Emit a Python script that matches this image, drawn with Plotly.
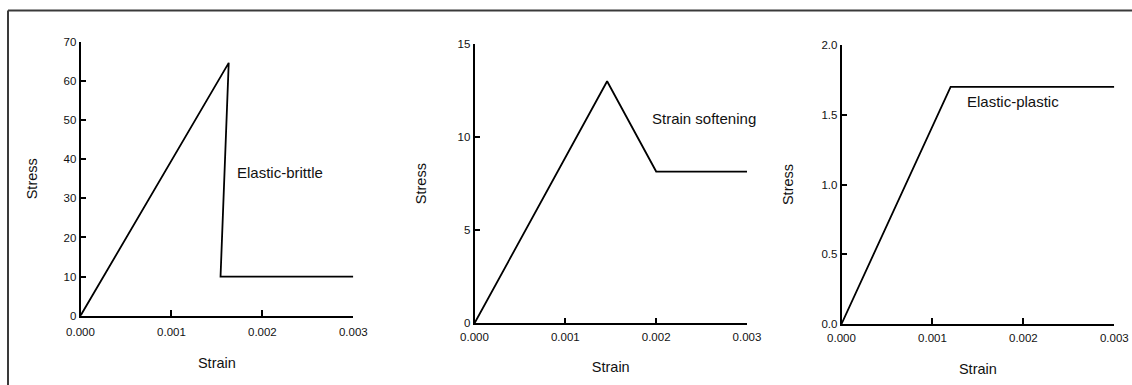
import plotly.graph_objects as go

# ---- data ----
brittle_strain = [0.0, 0.00163, 0.00154, 0.003]
brittle_stress = [0.0, 64.6, 10.0, 10.0]
softening_strain = [0.0, 0.00146, 0.002, 0.003]
softening_stress = [0.0, 13.0, 8.15, 8.15]
plastic_strain = [0.0, 0.0012, 0.003]
plastic_stress = [0.0, 1.70, 1.70]

x_ticks = [0.0, 0.001, 0.002, 0.003]
y1_ticks = [0, 10, 20, 30, 40, 50, 60, 70]
y2_ticks = [0, 5, 10, 15]
y3_ticks = [0.0, 0.5, 1.0, 1.5, 2.0]

labels = ["Elastic-brittle", "Strain softening", "Elastic-plastic"]

W, H = 1132, 385
FONT = "Liberation Sans, Arial, sans-serif"
INK = "#111111"

def xd(a, b):
    return [a / W, b / W]

def yd(bottom_px, top_px):
    return [1 - bottom_px / H, 1 - top_px / H]

fig = go.Figure()
line = dict(color="black", width=1.8)
fig.add_trace(go.Scatter(x=brittle_strain, y=brittle_stress, mode="lines", line=line, xaxis="x", yaxis="y", showlegend=False))
fig.add_trace(go.Scatter(x=softening_strain, y=softening_stress, mode="lines", line=line, xaxis="x2", yaxis="y2", showlegend=False))
fig.add_trace(go.Scatter(x=plastic_strain, y=plastic_stress, mode="lines", line=line, xaxis="x3", yaxis="y3", showlegend=False))

def xaxis(dom, anchor, lab_off, standoff):
    return dict(domain=dom, anchor=anchor, range=[0, 0.003], tickvals=x_ticks, tickformat=".3f",
                showline=True, linecolor="black", linewidth=1.6, ticks="inside", ticklen=6,
                tickcolor="black", tickwidth=1.5, showgrid=False, zeroline=False, automargin=False,
                tickfont=dict(size=11.5, color=INK, family=FONT), ticklabelstandoff=lab_off,
                title=dict(text="Strain", font=dict(size=14.5, color=INK, family=FONT), standoff=standoff))

def yaxis(dom, anchor, rng, ticks, fmt, standoff):
    return dict(domain=dom, anchor=anchor, range=rng, tickvals=ticks, tickformat=fmt,
                showline=True, linecolor="black", linewidth=1.6, ticks="inside", ticklen=6,
                tickcolor="black", tickwidth=1.5, showgrid=False, zeroline=False, automargin=False,
                tickfont=dict(size=11.5, color=INK, family=FONT), ticklabelstandoff=0,
                title=dict(text="Stress", font=dict(size=14.5, color=INK, family=FONT), standoff=standoff))

fig.update_layout(
    width=W, height=H, margin=dict(l=0, r=0, t=0, b=0, pad=0, autoexpand=False),
    autosize=False,
    paper_bgcolor="white", plot_bgcolor="white",
    font=dict(family=FONT, color=INK),
    xaxis=xaxis(xd(80.5, 353.3), "y", 5, 20),
    yaxis=yaxis(yd(315.8, 41.7), "x", [0, 70], y1_ticks, "d", 23),
    xaxis2=xaxis(xd(474.5, 747), "y2", 2, 20),
    yaxis2=yaxis(yd(323.3, 44), "x2", [0, 15], y2_ticks, "d", 28),
    xaxis3=xaxis(xd(841.5, 1114.3), "y3", 2, 21),
    yaxis3=yaxis(yd(324, 45), "x3", [0, 2.0], y3_ticks, ".1f", 24),
)

ann_font = dict(size=15, color=INK, family=FONT)
fig.add_annotation(x=0.00219, y=36.5, xref="x", yref="y", text=labels[0], showarrow=False, font=ann_font)
fig.add_annotation(x=0.002527, y=11.0, xref="x2", yref="y2", text=labels[1], showarrow=False, font=ann_font)
fig.add_annotation(x=0.001884, y=1.592, xref="x3", yref="y3", text=labels[2], showarrow=False, font=ann_font)

# outer frame (top and left edges visible)
fig.add_shape(type="line", xref="paper", yref="paper", x0=8 / W, y0=0, x1=8 / W, y1=1 - 10.5 / H,
              line=dict(color="#3a3a3a", width=2))
fig.add_shape(type="line", xref="paper", yref="paper", x0=8 / W, y0=1 - 10.5 / H, x1=1, y1=1 - 10.5 / H,
              line=dict(color="#3a3a3a", width=2))

fig.write_html(
    "out.html",
    config={"displayModeBar": False},
    post_script="document.body.style.margin='0';document.body.style.overflow='hidden';",
)
